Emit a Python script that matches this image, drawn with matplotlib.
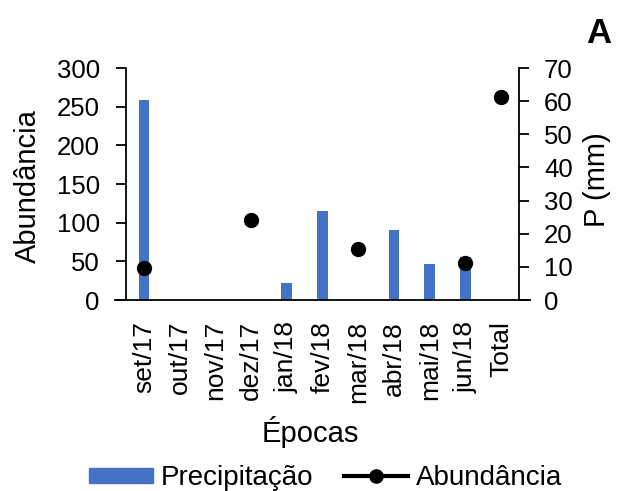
import numpy as np
import matplotlib
matplotlib.use('Agg')
import matplotlib.pyplot as plt
from matplotlib.lines import Line2D
from matplotlib.patches import Patch

plt.rcParams['font.family'] = ['Liberation Sans', 'DejaVu Sans']

# dados
epocas = ['set/17', 'out/17', 'nov/17', 'dez/17', 'jan/18', 'fev/18',
          'mar/18', 'abr/18', 'mai/18', 'jun/18', 'Total']
precipitacao = [60.2, 0, 0, 0, 5.2, 27, 0, 21, 11, 13, 0]          # mm
abundancia = [41, np.nan, np.nan, 103, np.nan, np.nan, 66, np.nan, np.nan, 48, 263]

azul = '#4472C4'
x = np.arange(len(epocas))

fig = plt.figure(figsize=(6.2, 4.91), dpi=100)
ax = fig.add_axes([0.1855, 0.389, 0.6695, 0.4725])
ax2 = ax.twinx()

ax2.bar(x, precipitacao, width=0.3, color=azul)
ax.plot(x, abundancia, 'o', color='black', markersize=10)

# pontos por cima das barras
ax.set_zorder(ax2.get_zorder() + 1)
ax.patch.set_visible(False)

ax.set_xlim(-0.81, 10.81)
ax.set_ylim(0, 300)
ax2.set_ylim(0, 70)
ax.set_yticks(range(0, 301, 50))
ax2.set_yticks(range(0, 71, 10))
ax.set_xticks(x)
ax.set_xticklabels(epocas, rotation=90, fontsize=19)
ax.tick_params(axis='x', length=0, pad=15)
ax.tick_params(axis='y', labelsize=18.5, length=7, width=1.3, direction='out', pad=12)
ax2.tick_params(axis='y', labelsize=18.5, length=7, width=1.3, direction='out', pad=11)

for a in (ax, ax2):
    a.spines['top'].set_visible(False)
    for s in a.spines.values():
        s.set_linewidth(1.3)
ax.spines['right'].set_visible(False)
ax2.spines['left'].set_visible(False)
ax2.spines['bottom'].set_visible(False)
ax.spines['left'].set_position(('data', -0.5))
ax2.spines['right'].set_position(('data', 10.5))

ax.set_ylabel('Abundância', fontsize=21)
ax2.set_ylabel('P (mm)', fontsize=21)
ax.set_xlabel('Épocas', fontsize=21)
ax.yaxis.set_label_coords(-0.176, 0.49)
ax2.yaxis.set_label_coords(1.128, 0.517)
ax.xaxis.set_label_coords(0.47, -0.5)

fig.text(0.965, 0.932, 'A', fontsize=25, fontweight='bold', ha='center', va='center')

handles = [Patch(color=azul),
           Line2D([], [], color='black', lw=3, marker='o', markersize=9.5)]
fig.legend(handles, ['Precipitação', 'Abundância'], loc='center',
           bbox_to_anchor=(0.525, 0.026), ncol=2, frameon=False, fontsize=20,
           handlelength=2.3, handleheight=0.47, handletextpad=0.3,
           columnspacing=1.1, borderpad=0, borderaxespad=0)

plt.savefig('out.png', dpi=100)
